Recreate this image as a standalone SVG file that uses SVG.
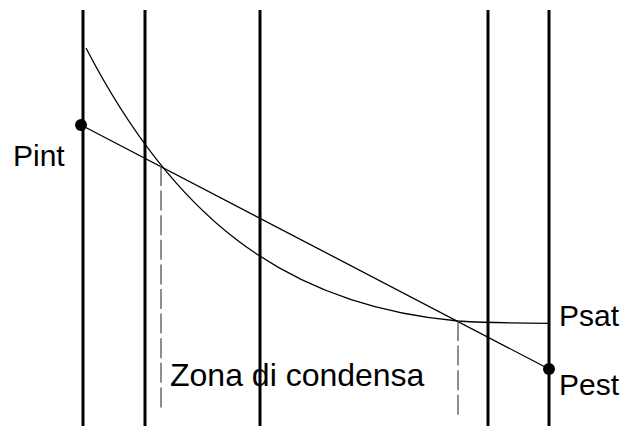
<svg xmlns="http://www.w3.org/2000/svg" width="624" height="430" viewBox="0 0 624 430">
<style>
.wall{stroke:#000;stroke-width:3;fill:none}
.thin{stroke:#000;stroke-width:1.3;fill:none}
.dash{stroke:#444;stroke-width:1.2;fill:none;stroke-dasharray:20 4.6}
.lbl{font-family:"Liberation Sans",Arial,sans-serif;font-size:30px;fill:#000}
.big{font-size:32px}
</style>
<rect width="624" height="430" fill="#fff"/>
<g id="walls">
<line class="wall" x1="83" y1="10" x2="83" y2="426"/>
<line class="wall" x1="145" y1="10" x2="145" y2="426"/>
<line class="wall" x1="260" y1="10" x2="260" y2="426"/>
<line class="wall" x1="488" y1="10" x2="488" y2="426"/>
<line class="wall" x1="549" y1="10" x2="549" y2="426"/>
</g>
<g id="connectors">
<line class="thin" x1="81" y1="125" x2="549" y2="369"/>
<path class="thin" d="M86,48 C170,210 278,305 458,321 C488,322.8 520,323.3 549,323.3"/>
<line class="dash" x1="161" y1="166" x2="161" y2="411"/>
<line class="dash" x1="458" y1="321" x2="458" y2="415"/>
</g>
<g id="pint"><circle cx="81" cy="125" r="6"/><text class="lbl" x="13" y="166">Pint</text></g>
<g id="pest"><circle cx="549" cy="369" r="6"/><text class="lbl" x="559" y="395">Pest</text></g>
<g id="psat"><text class="lbl" x="559" y="326">Psat</text></g>
<g id="zona"><text class="lbl big" x="170" y="386">Zona di condensa</text></g>
</svg>
